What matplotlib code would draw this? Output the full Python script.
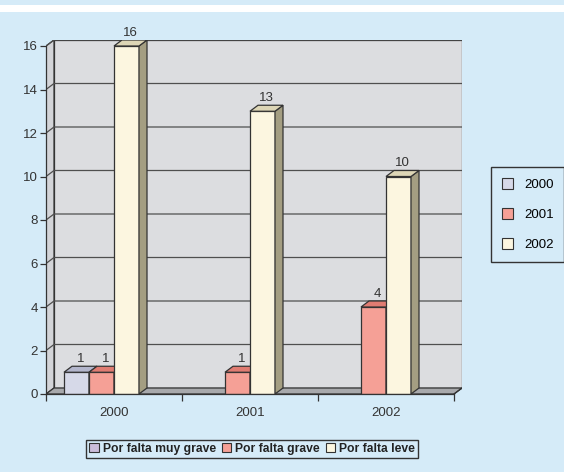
import matplotlib.pyplot as plt
from matplotlib.patches import Patch, Polygon, Rectangle

plt.rcParams["font.family"] = ["Liberation Sans", "DejaVu Sans"]

categories = ["2000", "2001", "2002"]
series_names = ["Por falta muy grave", "Por falta grave", "Por falta leve"]
muy_grave = [1, 0, 0]
grave = [1, 1, 4]
leve = [16, 13, 10]
values = [muy_grave, grave, leve]

# front / side / top colours per series
front = ["#d6d9e8", "#f5a096", "#fcf6e0"]
side = ["#9a9cb4", "#c66a60", "#a49e82"]
top = ["#b3b6cc", "#e07c72", "#ddd6b6"]
legend_bottom_colors = ["#cbbcda", "#f5a096", "#fcf6e0"]

bg = "#d5ebf8"
edge = "#333333"

fig = plt.figure(figsize=(5.64, 4.72), dpi=100, facecolor=bg)
fig.patches.append(Rectangle((0, 1 - 12 / 472), 1, 7 / 472, transform=fig.transFigure,
                             facecolor="white", edgecolor="none"))

ax = fig.add_axes([46 / 564, 78 / 472, 416 / 564, 354 / 472])
ax.set_facecolor("none")

dx = 8 / 136  # depth offset in category units
dy = 6 / 21.75  # depth offset in value units
ymax = 16
ax.set_xlim(-0.5, 2.5 + dx)
ax.set_ylim(0, ymax + dy)

# walls
ax.add_patch(Rectangle((-0.5 + dx, dy), 3, ymax, facecolor="#dcdde0", edgecolor=edge, lw=0.9, zorder=0))
ax.add_patch(Polygon([(-0.5, 0), (-0.5 + dx, dy), (-0.5 + dx, ymax + dy), (-0.5, ymax)],
                     facecolor="#d3d4d8", edgecolor=edge, lw=0.9, zorder=0))
for g in range(2, ymax + 1, 2):
    ax.plot([-0.5, -0.5 + dx, 2.5 + dx], [g, g + dy, g + dy], color="#4f4f4f", lw=0.9, zorder=1)
ax.add_patch(Polygon([(-0.5, 0), (2.5, 0), (2.5 + dx, dy), (-0.5 + dx, dy)],
                     facecolor="#a8a9ac", edgecolor=edge, lw=0.9, zorder=1))

# bars
w = 25 / 136
for i, vals in enumerate(values):
    xs = [c + (i - 1) * w - w / 2 for c in range(len(categories))]
    z = 3 + i
    ax.bar(xs, vals, width=w, color=front[i],
           edgecolor=[edge if v else "none" for v in vals], lw=0.9, zorder=z)
    for x, v in zip(xs, vals):
        if not v:
            continue
        r = x + w / 2
        l = x - w / 2
        ax.add_patch(Polygon([(r, 0), (r + dx, dy), (r + dx, v + dy), (r, v)],
                             facecolor=side[i], edgecolor=edge, lw=0.9, zorder=z + 0.1))
        ax.add_patch(Polygon([(l, v), (r, v), (r + dx, v + dy), (l + dx, v + dy)],
                             facecolor=top[i], edgecolor=edge, lw=0.9, zorder=z + 0.2))
        ax.text(x + dx / 2, v + dy + 0.05, str(v), ha="center", va="bottom",
                fontsize=9.5, color="#333333", zorder=10)

# axes
for s in ["top", "right"]:
    ax.spines[s].set_visible(False)
ax.spines["left"].set_bounds(0, ymax)
ax.spines["bottom"].set_bounds(-0.5, 2.5)
for s in ["left", "bottom"]:
    ax.spines[s].set_color(edge)
    ax.spines[s].set_linewidth(0.9)
    ax.spines[s].set_zorder(8)
ax.plot([2.5, 2.5 + dx], [0, dy], color=edge, lw=0.9, zorder=8)

ax.set_yticks(range(0, ymax + 1, 2))
ax.tick_params(axis="y", length=4, width=0.9, color=edge, pad=2, labelsize=9.5, labelcolor="#333333")
ax.set_xticks(range(len(categories)))
ax.set_xticklabels(categories)
ax.set_xticks([-0.5, 0.5, 1.5, 2.5], minor=True)
ax.tick_params(axis="x", which="major", length=0, pad=9, labelsize=9.5, labelcolor="#333333")
ax.tick_params(axis="x", which="minor", length=5, width=0.9, color=edge)

# legends
right_handles = [Patch(facecolor=front[i], edgecolor=edge, lw=0.8) for i in range(3)]
fig.legend(right_handles, categories, loc="upper left", bbox_to_anchor=(491 / 564, 1 - 167 / 472),
           frameon=True, fancybox=False, edgecolor=edge, facecolor=bg, framealpha=1,
           fontsize=9.5, handlelength=0.9, handleheight=0.9, labelspacing=1.3,
           borderpad=0.8, handletextpad=0.8, borderaxespad=0)

bottom_handles = [Patch(facecolor=legend_bottom_colors[i], edgecolor=edge, lw=0.8) for i in range(3)]
leg = fig.legend(bottom_handles, series_names, loc="center", bbox_to_anchor=(252 / 564, 1 - 449 / 472),
                 ncol=3, frameon=True, fancybox=False, edgecolor=edge, facecolor=bg, framealpha=1,
                 prop={"weight": "bold", "size": 8.7}, handlelength=0.8, handleheight=0.8,
                 handletextpad=0.3, columnspacing=0.5, borderpad=0.25, borderaxespad=0)
for t in leg.get_texts():
    t.set_color("#222222")

fig.savefig("out.png", dpi=100, facecolor=bg)
